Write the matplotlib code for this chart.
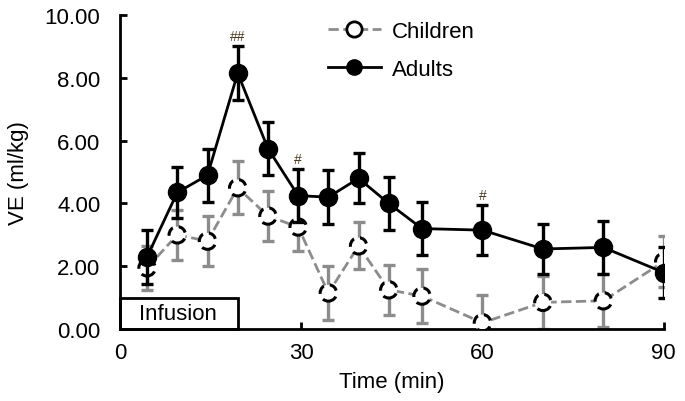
import numpy as np
import matplotlib.pyplot as plt
from matplotlib.lines import Line2D
from matplotlib.patches import Rectangle

plt.rcParams['font.family'] = ['Liberation Sans', 'DejaVu Sans']

# Data
time = [4.5, 9.5, 14.5, 19.5, 24.5, 29.5, 34.5, 39.5, 44.5, 50, 60, 70, 80, 90]
adults = [2.3, 4.35, 4.9, 8.15, 5.75, 4.25, 4.2, 4.8, 4.0, 3.2, 3.15, 2.55, 2.6, 1.8]
adults_err = [0.85, 0.8, 0.85, 0.85, 0.85, 0.85, 0.85, 0.8, 0.85, 0.85, 0.8, 0.8, 0.85, 0.8]
children = [1.95, 3.0, 2.8, 4.5, 3.6, 3.25, 1.15, 2.65, 1.25, 1.05, 0.2, 0.85, 0.9, 2.15]
children_err = [0.7, 0.8, 0.8, 0.85, 0.8, 0.75, 0.85, 0.75, 0.8, 0.85, 0.9, 0.85, 0.85, 0.8]
sig_idx = [3, 5, 10]
sig_label = ['##', '#', '#']

fig = plt.figure(figsize=(6.85, 4.02), dpi=100)
ax = fig.add_axes([0.175, 0.179, 0.794, 0.781])

# Children: gray dashed line, open markers with dashed edge
ax.errorbar(time, children, yerr=children_err, fmt='none', ecolor='#8c8c8c',
            elinewidth=2.4, capsize=4, capthick=2.4, zorder=2)
ax.plot(time, children, color='#8c8c8c', ls='--', lw=2, zorder=2)
ax.scatter(time, children, s=140, facecolors='white', edgecolors='black',
           linewidths=2.2, linestyles=(0, (3, 2)), zorder=3)

# Adults: black line, filled markers
ax.errorbar(time, adults, yerr=adults_err, fmt='-o', color='black', lw=2,
            ms=13, elinewidth=2.4, capsize=4, capthick=2.4, zorder=4)

for i, lab in zip(sig_idx, sig_label):
    ax.text(time[i], adults[i] + adults_err[i] + 0.1, lab, ha='center', va='bottom',
            fontsize=10, color='#4a3c20')

# Infusion box
ax.add_patch(Rectangle((0, 0), 19.5, 1.0, fill=False, ec='black', lw=2, zorder=5,
                       clip_on=False))
ax.text(9.6, 0.48, 'Infusion', ha='center', va='center', fontsize=16, zorder=6)

ax.set_xlim(0, 90)
ax.set_ylim(0, 10)
ax.set_xticks([0, 30, 60, 90])
ax.set_yticks(np.arange(0, 10.01, 2))
ax.set_yticklabels([f'{v:.2f}' for v in np.arange(0, 10.01, 2)])
ax.tick_params(direction='in', width=2, length=5, labelsize=16)
ax.tick_params(axis='y', pad=14)
ax.tick_params(axis='x', pad=9)
for side in ['top', 'right']:
    ax.spines[side].set_visible(False)
for side in ['left', 'bottom']:
    ax.spines[side].set_linewidth(2)
ax.set_xlabel('Time (min)', fontsize=16, labelpad=6)
ax.set_ylabel('VE (ml/kg)', fontsize=16, labelpad=11)

handles = [
    Line2D([], [], color='#8c8c8c', ls='--', lw=2, marker='o', ms=11,
           mfc='white', mec='black', mew=2),
    Line2D([], [], color='black', lw=2, marker='o', ms=11),
]
ax.legend(handles, ['Children', 'Adults'], loc='upper left',
          bbox_to_anchor=(0.345, 1.045), frameon=False, fontsize=16,
          handlelength=2.4, handletextpad=0.5, labelspacing=0.75)

fig.savefig('out.png', dpi=100)
